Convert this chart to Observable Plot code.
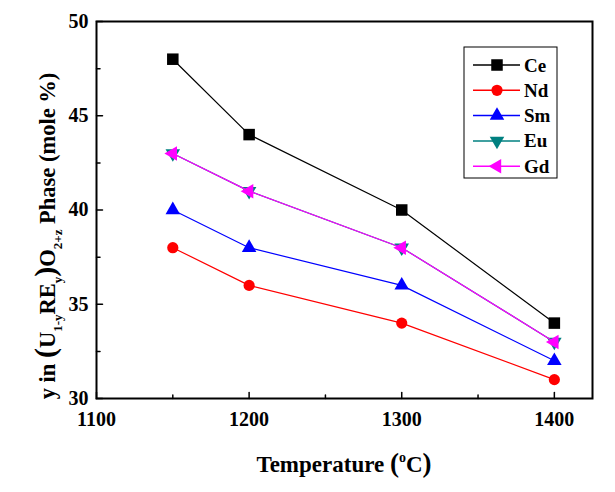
<!DOCTYPE html>
<html><head><meta charset="utf-8">
<script src="https://cdn.jsdelivr.net/npm/d3@7"></script>
<script src="https://cdn.jsdelivr.net/npm/@observablehq/plot@0.6"></script>
<style>body{margin:0;background:#fff}</style>
</head><body><div id="chart"></div>
<script>
const temperatures = [1150, 1200, 1300, 1400];
const ceValues = [48, 44, 40, 34];
const ndValues = [38, 36, 34, 31];
const smValues = [40, 38, 36, 32];
const euValues = [43, 41, 38, 33];
const gdValues = [43, 41, 38, 33];
const seriesNames = ["Ce", "Nd", "Sm", "Eu", "Gd"];
const seriesValues = [ceValues, ndValues, smValues, euValues, gdValues];
const seriesColors = ["#000000", "#ff0000", "#0000ff", "#008080", "#ff00ff"];
const xTicks = [1100, 1200, 1300, 1400];
const xMinorTicks = [1150, 1250, 1350];
const yTicks = [30, 35, 40, 45, 50];
const yMinorTicks = [32.5, 37.5, 42.5, 47.5];

const sqrt3 = Math.sqrt(3);
const triDown = {draw(ctx, size) {
  const y = -Math.sqrt(size / (sqrt3 * 3));
  ctx.moveTo(0, -y * 2); ctx.lineTo(-sqrt3 * y, y); ctx.lineTo(sqrt3 * y, y); ctx.closePath();
}};
const triLeft = {draw(ctx, size) {
  const y = -Math.sqrt(size / (sqrt3 * 3));
  ctx.moveTo(y * 2, 0); ctx.lineTo(-y, sqrt3 * y); ctx.lineTo(-y, -sqrt3 * y); ctx.closePath();
}};
const seriesSymbols = [d3.symbolSquare, d3.symbolCircle, d3.symbolTriangle, triDown, triLeft];
const seriesRadii = [6.5, 5.6, 5.4, 5.4, 5.4];

const table = [];
seriesNames.forEach((name, i) => temperatures.forEach((t, j) => table.push({series: name, temperature: t, value: seriesValues[i][j]})));

const tickShape = {draw(ctx, l) { ctx.moveTo(0, 0); ctx.lineTo(0, -l); }};

const marks = [
  Plot.axisX(xTicks, {tickSize: 0, tickPadding: 13, label: null, tickFormat: d => String(d), fontSize: 20, fontWeight: "bold"}),
  Plot.axisY(yTicks, {tickSize: 0, tickPadding: 8, label: null, tickFormat: d => String(d), fontSize: 20, fontWeight: "bold"}),
  Plot.vector(xTicks, {x: d => d, frameAnchor: "bottom", length: 6, rotate: 0, anchor: "start", shape: tickShape, stroke: "black", strokeWidth: 1.5}),
  Plot.vector(xMinorTicks, {x: d => d, frameAnchor: "bottom", length: 3.5, rotate: 0, anchor: "start", shape: tickShape, stroke: "black", strokeWidth: 1.5}),
  Plot.vector(yTicks, {y: d => d, frameAnchor: "left", length: 6, rotate: 90, anchor: "start", shape: tickShape, stroke: "black", strokeWidth: 1.5}),
  Plot.vector(yMinorTicks, {y: d => d, frameAnchor: "left", length: 3.5, rotate: 90, anchor: "start", shape: tickShape, stroke: "black", strokeWidth: 1.5})
];
seriesNames.forEach((name, i) => {
  const rows = table.filter(d => d.series === name);
  marks.push(Plot.line(rows, {x: "temperature", y: "value", stroke: seriesColors[i], strokeWidth: 1.2}));
  marks.push(Plot.dot(rows, {x: "temperature", y: "value", symbol: seriesSymbols[i], r: seriesRadii[i], fill: seriesColors[i], stroke: "none"}));
});
marks.push(Plot.frame({stroke: "black", strokeWidth: 2}));

const chart = Plot.plot({
  width: 615, height: 492,
  marginLeft: 96, marginRight: 23, marginTop: 21, marginBottom: 94,
  x: {domain: [1100, 1425], label: null},
  y: {domain: [30, 50], label: null},
  style: {fontFamily: "'Liberation Serif', 'Times New Roman', serif", fontWeight: "bold", fontSize: "20px", background: "white", color: "black", overflow: "visible"},
  marks
});
document.getElementById("chart").append(chart);

const svg = d3.select(chart);
const font = "'Liberation Serif', 'Times New Roman', serif";

// x title
const xt = svg.append("text").attr("x", 344).attr("y", 472).attr("text-anchor", "middle")
  .attr("font-family", font).attr("font-weight", "bold").attr("font-size", 23).attr("fill", "black");
xt.append("tspan").text("Temperature ");
xt.append("tspan").attr("font-size", 27).text("(");
xt.append("tspan").attr("font-size", 14).attr("dy", -10).text("o");
xt.append("tspan").attr("dy", 10).text("C");
xt.append("tspan").attr("font-size", 27).text(")");

// y title
const yt = svg.append("text").attr("transform", "translate(55,236) rotate(-90)").attr("text-anchor", "middle")
  .attr("font-family", font).attr("font-weight", "bold").attr("font-size", 22.5).attr("fill", "black");
yt.append("tspan").text("y in ");
yt.append("tspan").attr("font-size", 30).text("(");
yt.append("tspan").text("U");
yt.append("tspan").attr("font-size", 13).attr("dy", 7).text("1-y");
yt.append("tspan").attr("dy", -7).text("RE");
yt.append("tspan").attr("font-size", 13).attr("dy", 7).text("y");
yt.append("tspan").attr("dy", -7).attr("font-size", 30).text(")");
yt.append("tspan").text("O");
yt.append("tspan").attr("font-size", 13).attr("dy", 7).text("2+z");
yt.append("tspan").attr("dy", -7).text(" Phase (mole %)");

// legend
const lg = svg.append("g");
lg.append("rect").attr("x", 464).attr("y", 47).attr("width", 93).attr("height", 131)
  .attr("fill", "white").attr("stroke", "black").attr("stroke-width", 1);
seriesNames.forEach((name, i) => {
  const cy = 65 + i * 25.3;
  lg.append("line").attr("x1", 473).attr("x2", 520).attr("y1", cy).attr("y2", cy)
    .attr("stroke", seriesColors[i]).attr("stroke-width", 1.5);
  lg.append("path").attr("transform", `translate(497,${cy})`)
    .attr("d", d3.symbol(seriesSymbols[i], Math.PI * seriesRadii[i] * seriesRadii[i])())
    .attr("fill", seriesColors[i]);
  lg.append("text").attr("x", 524).attr("y", cy + 6.5).attr("text-anchor", "start").attr("font-family", font).attr("font-weight", "bold")
    .attr("font-size", 19).attr("fill", "black").text(name);
});
</script>
</body></html>
